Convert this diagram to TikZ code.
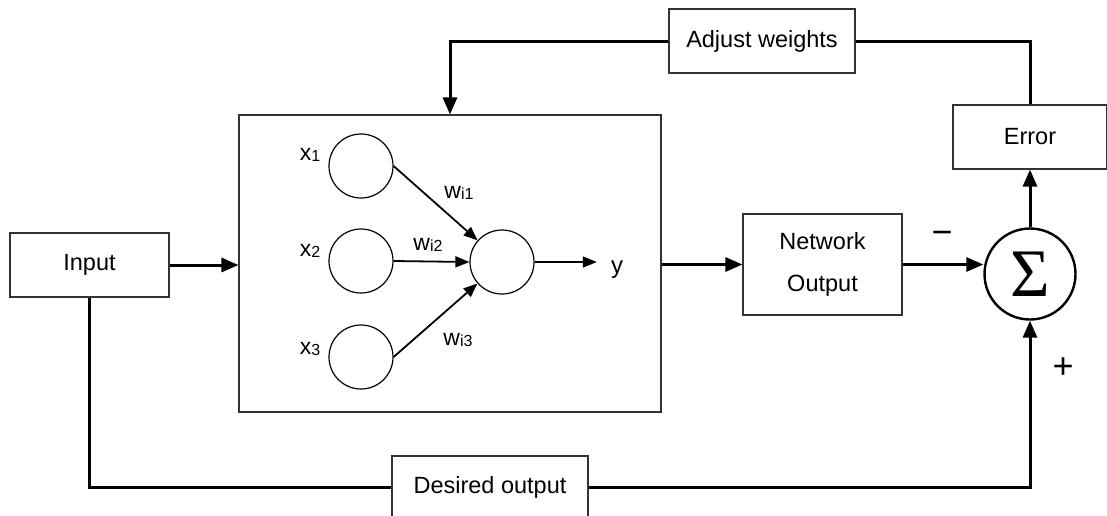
\documentclass[tikz,border=0pt]{standalone}
\usepackage{fontspec}
\setmainfont{Liberation Sans}
\newfontfamily\sigmafont{Liberation Serif}
\usetikzlibrary{arrows.meta}

% lowered, smaller index used in the neuron labels
\newcommand{\lsub}[1]{\raisebox{-1.6pt}{\fontsize{16}{16}\selectfont #1}}

\begin{document}
\begin{tikzpicture}[x=1pt,y=-1pt,
  box/.style={draw=black!80, line width=1.1pt, inner sep=0pt,
    font=\fontsize{23.5}{42}\selectfont, align=center},
  neuron/.style={circle, draw, line width=1.2pt, minimum size=64pt, inner sep=0pt},
  wire/.style={line width=3pt},
  link/.style={wire, -{Triangle[length=17pt,width=14pt]}},
  syn/.style={line width=1.8pt, -{Triangle[length=14pt,width=11pt]}},
  lbl/.style={font=\fontsize{23}{23}\selectfont, inner sep=0pt, anchor=base},
  sign/.style={font=\fontsize{36}{36}\selectfont, inner sep=0pt}]

\useasboundingbox (0,0) rectangle (1107,515);

% blocks
\node[box, minimum width=159pt, minimum height=64pt] (input) at (89.5,265) {Input};
\node[draw=black!80, line width=1.1pt, minimum width=422pt, minimum height=297pt] (net) at (450,263.5) {};
\node[box, minimum width=159pt, minimum height=101pt] (netout) at (822.5,264.5) {Network\\Output};
\node[circle, draw, line width=2.4pt, minimum size=91pt, inner sep=0pt] (sigma) at (1030,274)
  {\sigmafont\fontsize{68}{68}\selectfont Σ};
\node[box, minimum width=154pt, minimum height=64pt] (error) at (1030,137) {Error};
\node[box, minimum width=186pt, minimum height=64pt] (adjust) at (762,41) {Adjust weights};
\node[box, minimum width=196pt, minimum height=62pt] (desired) at (490,487) {Desired output};

% neurons inside the network block
\node[neuron] (n1) at (361,166) {};
\node[neuron] (n2) at (361,261) {};
\node[neuron] (n3) at (361,357) {};
\node[neuron] (out) at (502,262) {};

\node[lbl] (lx1) at (310,160) {x\lsub{1}};
\node[lbl] (lx2) at (310,256) {x\lsub{2}};
\node[lbl] (lx3) at (310,354) {x\lsub{3}};
\node[lbl] (lw1) at (459,198) {w\lsub{i1}};
\node[lbl] (lw2) at (428,250) {w\lsub{i2}};
\node[lbl] (lw3) at (458,345) {w\lsub{i3}};
\node[font=\fontsize{24}{24}\selectfont, inner sep=0pt] (ylab) at (617,270) {y};

\node[sign] (minus) at (942,238) {−};
\node[sign] (plus) at (1063,368) {+};

% weighted inputs
\draw[syn] (n1.east) -- (out);
\draw[syn] (n2.east) -- (out.west);
\draw[syn] (n3.east) -- (out);
\draw[syn] (out.east) -- ([xshift=-14pt]ylab.west |- out.east);

% signal flow
\draw[link] (input.east) -- (input.east -| net.west);
\draw[link] (net.east |- netout.west) -- (netout.west);
\draw[link] (netout.east) -- (netout.east -| sigma.west);
\draw[link] (sigma.north) -- (error.south);
\draw[wire] (error.north) |- (adjust.east);
\draw[link] (adjust.west) -| (net.north);
\draw[wire] (input.south) |- (desired.west);
\draw[link] (desired.east) -| (sigma.south);

\end{tikzpicture}
\end{document}
